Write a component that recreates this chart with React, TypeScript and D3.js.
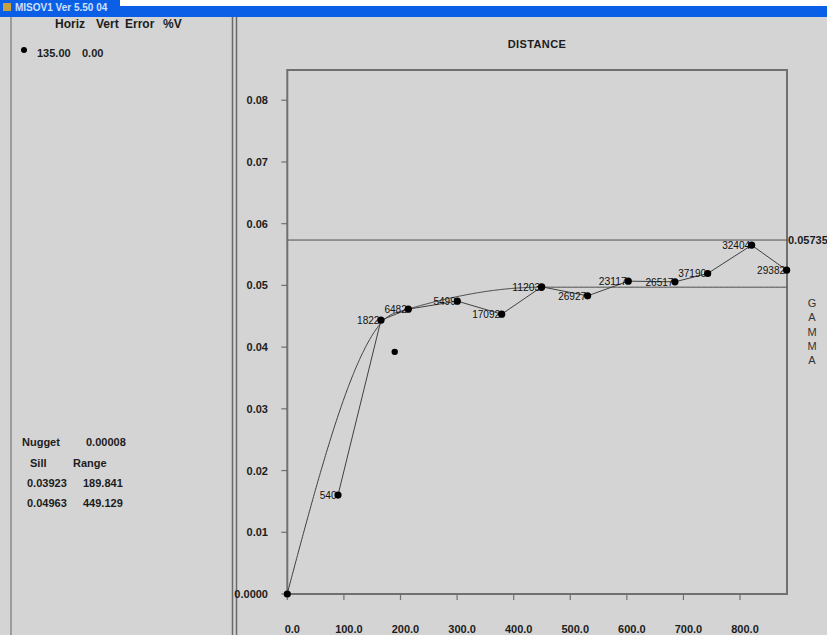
import React from "react";
import * as d3 from "d3";

// Experimental variogram: lag distance, semivariance and pair counts
const lagDistance = [89.6, 165.5, 213.8, 300.4, 378.8, 449.5, 530.7, 602.5, 685.0, 742.8, 820.5, 882.3];
const gammaValues = [0.01603, 0.04437, 0.04615, 0.04745, 0.04534, 0.04977, 0.04831, 0.05069, 0.05058, 0.05193, 0.05652, 0.05247];
const pairCounts = [540, 1822, 6482, 5499, 17092, 11203, 26927, 23117, 26517, 37190, 32404, 29382];

// Nested spherical model parameters (cumulative sills)
const nugget = 0.00008;
const sills = [0.03923, 0.04963];
const ranges = [189.841, 449.129];
const sampleVariance = 0.05735;

const yTicks = [0, 0.01, 0.02, 0.03, 0.04, 0.05, 0.06, 0.07, 0.08];
const yTickLabels = ["0.0000", "0.01", "0.02", "0.03", "0.04", "0.05", "0.06", "0.07", "0.08"];
const xTicks = [0, 100, 200, 300, 400, 500, 600, 700, 800];
const xTickLabels = ["0.0", "100.0", "200.0", "300.0", "400.0", "500.0", "600.0", "700.0", "800.0"];

const W = 827;
const H = 635;
const BG = "#d4d4d4";
const FONT = "'Liberation Sans', Arial, sans-serif";

function spherical(h: number, a: number) {
  if (h >= a) return 1;
  const r = h / a;
  return 1.5 * r - 0.5 * r * r * r;
}

function model(h: number) {
  if (h <= 0) return 0;
  let g = nugget;
  let prev = 0;
  sills.forEach((s, i) => {
    g += (s - prev) * spherical(h, ranges[i]);
    prev = s;
  });
  return g;
}

export default function App() {
  const x = d3.scaleLinear().domain([0, 883]).range([287.3, 787]);
  const y = d3.scaleLinear().domain([0, 0.0849]).range([594, 70]);

  const pts = lagDistance.map((h, i) => ({ h, g: gammaValues[i], n: pairCounts[i] }));
  const dataLine = d3
    .line<{ h: number; g: number }>()
    .x((d) => x(d.h))
    .y((d) => y(d.g))(pts);

  const hs = d3.range(0, 883.5, 1.5);
  const modelLine = d3
    .line<number>()
    .x((h) => x(h))
    .y((h) => y(model(h)))(hs);

  const txt = "#1c1c1c";
  const header = [
    { t: "Horiz", x: 55 },
    { t: "Vert", x: 96 },
    { t: "Error", x: 125 },
    { t: "%V", x: 163 },
  ];

  return (
    <svg
      width={W}
      height={H}
      style={{ position: "absolute", left: 0, top: 0, display: "block" }}
      fontFamily={FONT}
    >
      <rect x={0} y={0} width={W} height={H} fill={BG} />
      {/* window caption */}
      <rect x={0} y={0} width={W} height={6} fill="#ffffff" />
      <rect x={0} y={6} width={W} height={11} fill="#0b5fe6" />
      <rect x={0} y={0} width={120} height={6} fill="#0b5fe6" />
      <rect x={3} y={3} width={8} height={8} fill="#c8a040" />
      <text x={15} y={11} fontSize={10} fontWeight="bold" fill="#cfe0ff">
        MISOV1 Ver 5.50 04
      </text>

      {/* left panel */}
      <line x1={11} y1={17} x2={11} y2={H} stroke="#8a8a8a" strokeWidth={1.5} />
      <line x1={232.5} y1={17} x2={232.5} y2={H} stroke="#6a6a6a" strokeWidth={1.5} />
      <line x1={236.5} y1={17} x2={236.5} y2={H} stroke="#6a6a6a" strokeWidth={1.5} />

      <g fontSize={12} fontWeight="bold" fill={txt}>
        {header.map((h) => (
          <text key={h.t} x={h.x} y={28}>
            {h.t}
          </text>
        ))}
      </g>
      <g fontSize={11} fontWeight="bold" fill={txt}>
        <text x={37} y={57}>135.00</text>
        <text x={82} y={57}>0.00</text>
        <text x={22} y={446}>Nugget</text>
        <text x={86} y={446}>{nugget.toFixed(5)}</text>
        <text x={30} y={467}>Sill</text>
        <text x={73} y={467}>Range</text>
        {sills.map((s, i) => (
          <g key={i}>
            <text x={27} y={487 + i * 20}>{s.toFixed(5)}</text>
            <text x={83} y={487 + i * 20}>{ranges[i].toFixed(3)}</text>
          </g>
        ))}
      </g>
      <circle cx={24} cy={50} r={3} fill="#000" />

      {/* title */}
      <text x={537} y={48} textAnchor="middle" fontSize={11} fontWeight="bold" fill={txt} letterSpacing={0.4}>
        DISTANCE
      </text>

      {/* plot frame */}
      <path
        d={`M${x(0)},${y(0)} H${x(883)} V${70} H${x(0)} Z`}
        fill="none"
        stroke="#707070"
        strokeWidth={2}
      />

      {/* y ticks */}
      {yTicks.map((t, i) => (
        <g key={t}>
          <line x1={x(0) - 6} x2={x(0)} y1={y(t)} y2={y(t)} stroke="#707070" strokeWidth={1.2} />
          <text x={268} y={y(t) + 4} textAnchor="end" fontSize={11} fontWeight="bold" fill={txt}>
            {yTickLabels[i]}
          </text>
        </g>
      ))}
      {/* x ticks */}
      {xTicks.map((t, i) => (
        <g key={t}>
          <line x1={x(t)} x2={x(t)} y1={y(0)} y2={y(0) + 6} stroke="#707070" strokeWidth={1.2} />
          <text x={x(t) + 5} y={633} textAnchor="middle" fontSize={11} fontWeight="bold" fill={txt}>
            {xTickLabels[i]}
          </text>
        </g>
      ))}

      {/* sample variance */}
      <line x1={x(0)} x2={x(883)} y1={y(sampleVariance)} y2={y(sampleVariance)} stroke="#505050" strokeWidth={1} />
      <text x={788} y={y(sampleVariance) + 4} fontSize={11} fontWeight="bold" fill={txt}>
        {sampleVariance.toFixed(5)}
      </text>

      {/* model curve */}
      <path d={modelLine || ""} fill="none" stroke="#404040" strokeWidth={1} />
      {/* experimental variogram */}
      <path d={dataLine || ""} fill="none" stroke="#404040" strokeWidth={1} />

      {pts.map((p) => {
        const label = String(p.n);
        const w = label.length * 5.6;
        return (
          <text
            key={p.n}
            x={x(p.h) - 1.5 - w}
            y={y(p.g) + 4}
            fontSize={11}
            fill="#111"
            textLength={w}
            lengthAdjust="spacingAndGlyphs"
          >
            {label}
          </text>
        );
      })}
      {pts.map((p) => (
        <circle key={p.n} cx={x(p.h)} cy={y(p.g)} r={3.6} fill="#000" />
      ))}
      {/* structure sill/range markers and origin */}
      {sills.map((s, i) => (
        <circle key={i} cx={x(ranges[i])} cy={y(s)} r={3.2} fill="#000" />
      ))}
      <circle cx={x(0)} cy={y(0)} r={3.6} fill="#000" />

      {/* vertical axis title */}
      <g fontSize={11} fill="#333" textAnchor="middle">
        {"GAMMA".split("").map((c, i) => (
          <text key={i} x={812} y={307 + i * 14.3}>
            {c}
          </text>
        ))}
      </g>
    </svg>
  );
}
